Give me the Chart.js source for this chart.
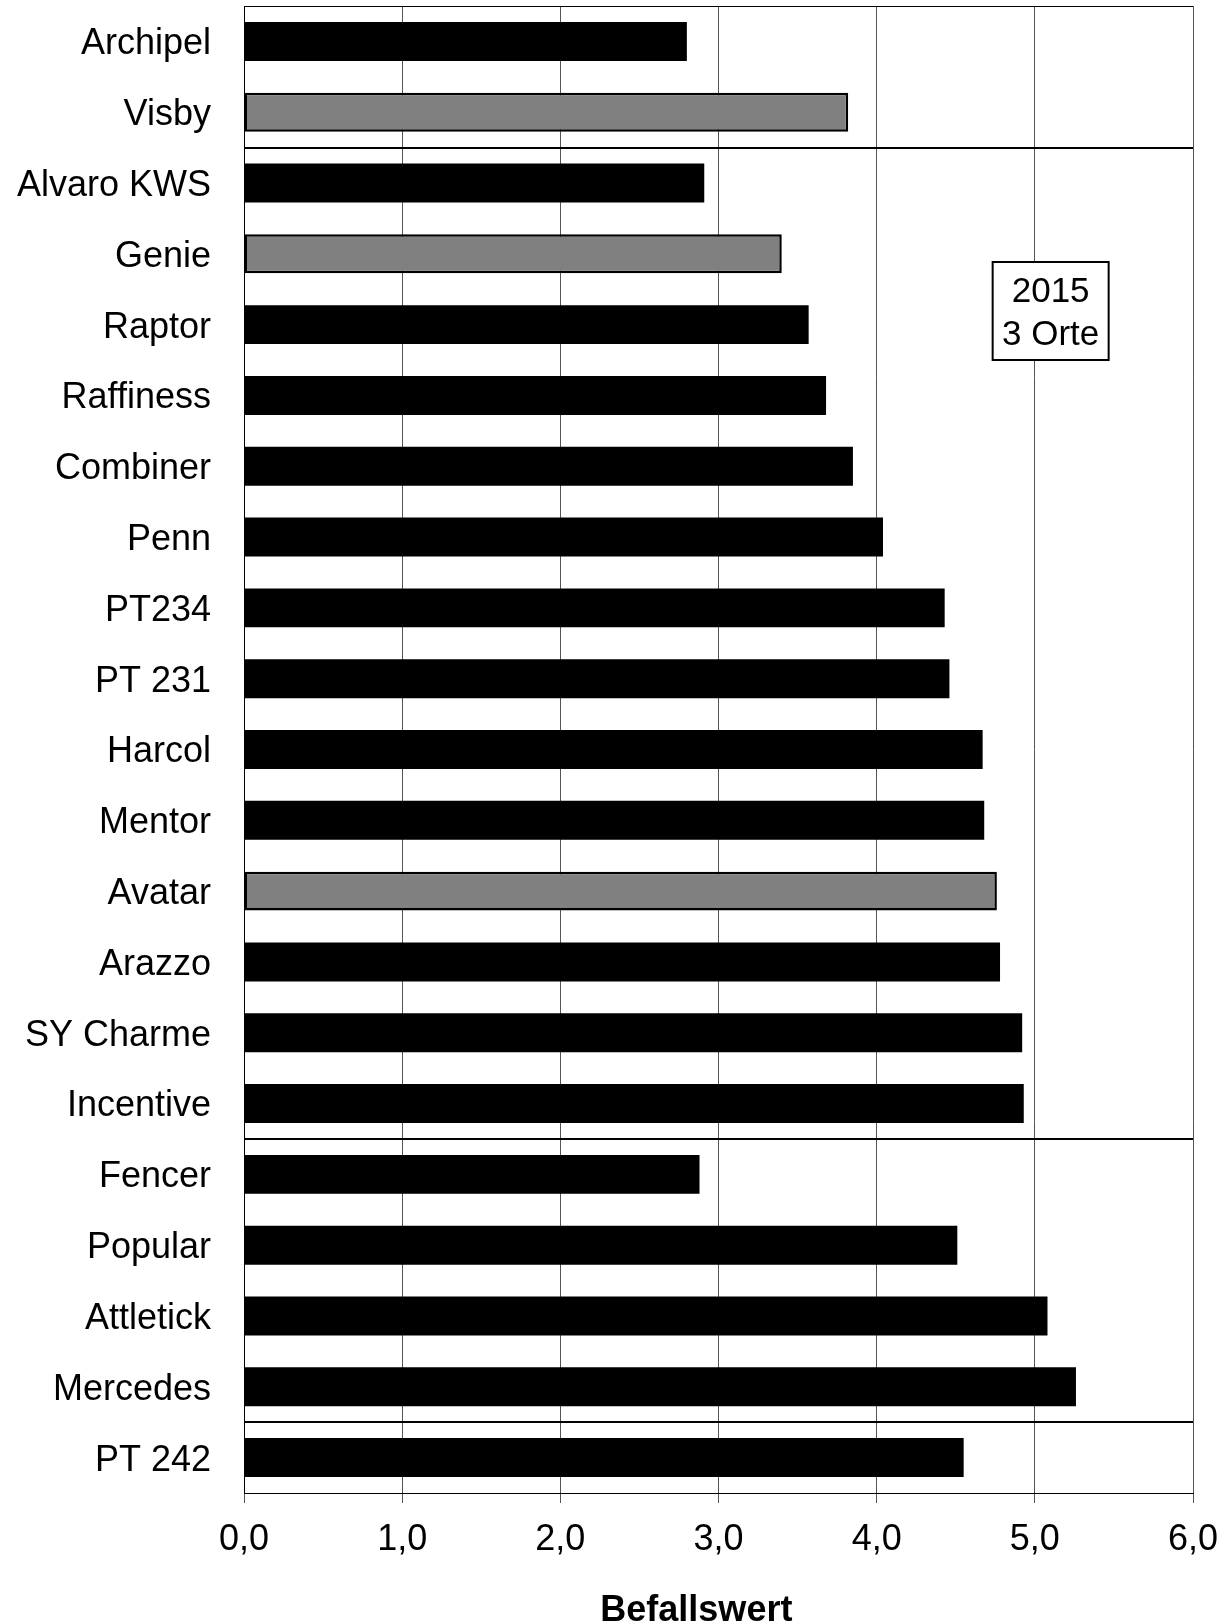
<!DOCTYPE html>
<html>
<head>
<meta charset="utf-8">
<script src="https://cdn.jsdelivr.net/npm/chart.js@4.4.1/dist/chart.umd.min.js"></script>
<style>
  body { margin: 0; background: #fff; }
  #wrap { width: 1230px; height: 1622px; }
</style>
</head>
<body>
<div id="wrap"><canvas id="befallChart"></canvas></div>
<script>
const sorten = ["Archipel", "Visby", "Alvaro KWS", "Genie", "Raptor", "Raffiness", "Combiner", "Penn",
  "PT234", "PT 231", "Harcol", "Mentor", "Avatar", "Arazzo", "SY Charme", "Incentive",
  "Fencer", "Popular", "Attletick", "Mercedes", "PT 242"];
const befallswert = [2.80, 3.82, 2.91, 3.40, 3.57, 3.68, 3.85, 4.04, 4.43, 4.46, 4.67, 4.68,
  4.76, 4.78, 4.92, 4.93, 2.88, 4.51, 5.08, 5.26, 4.55];
const vergleichssorten = ["Visby", "Genie", "Avatar"];
const gruppenGrenzen = [2, 16, 20];
const xTicks = [0, 1, 2, 3, 4, 5, 6];
const infoText = ["2015", "3 Orte"];
const achsenTitel = "Befallswert";

Chart.defaults.font.family = "'Liberation Sans', Arial, sans-serif";
Chart.defaults.color = "#000";

const isGrau = i => vergleichssorten.includes(sorten[i]);

// Kasten mit Jahr / Orte und Achsentitel
const beschriftung = {
  id: "beschriftung",
  afterDraw(chart) {
    const ctx = chart.ctx;
    const cx = chart.scales.x.getPixelForValue(5.1);
    ctx.save();
    ctx.fillStyle = "#fff";
    ctx.fillRect(cx - 58, 262, 116, 98);
    ctx.strokeStyle = "#000";
    ctx.lineWidth = 2;
    ctx.strokeRect(cx - 58, 262, 116, 98);
    ctx.fillStyle = "#000";
    ctx.font = "35px 'Liberation Sans', Arial, sans-serif";
    ctx.textAlign = "center";
    ctx.textBaseline = "middle";
    ctx.fillText(infoText[0], cx, 292);
    ctx.fillText(infoText[1], cx, 335);

    ctx.font = "bold 36px 'Liberation Sans', Arial, sans-serif";
    ctx.fillText(achsenTitel, chart.scales.x.getPixelForValue(2.86), 1611);
    ctx.restore();
  }
};

new Chart(document.getElementById("befallChart"), {
  type: "bar",
  data: {
    labels: sorten,
    datasets: [{
      data: befallswert,
      backgroundColor: c => isGrau(c.dataIndex) ? "#808080" : "#000",
      borderColor: "#000",
      borderWidth: c => isGrau(c.dataIndex) ? 2.5 : 0,
      borderSkipped: false,
      categoryPercentage: 1,
      barPercentage: 0.55,
    }],
  },
  options: {
    indexAxis: "y",
    responsive: true,
    maintainAspectRatio: false,
    animation: false,
    layout: { padding: { top: 6, right: 37, left: 0, bottom: 0 } },
    plugins: {
      legend: { display: false },
      tooltip: { enabled: false },
    },
    scales: {
      x: {
        min: 0,
        max: 6,
        afterBuildTicks: s => { s.ticks = xTicks.map(v => ({ value: v })); },
        afterFit: s => { s.height = 129; s.paddingLeft = 0; s.paddingRight = 0; },
        ticks: {
          font: { size: 36 },
          padding: 15,
          callback: v => v.toFixed(1).replace(".", ","),
        },
        grid: {
          color: "#555",
          lineWidth: 1,
          tickLength: 10,
          tickColor: "#555",
        },
        border: { display: true, color: "#000", width: 1 },
      },
      y: {
        afterFit: s => { s.width = 244; s.paddingTop = 0; s.paddingBottom = 0; },
        ticks: { font: { size: 36 }, padding: 33, labelOffset: 3 },
        grid: {
          drawTicks: false,
          color: c => (c.index === undefined || c.index === 0 || gruppenGrenzen.includes(c.index)) ? "#000" : "rgba(0,0,0,0)",
          lineWidth: c => gruppenGrenzen.includes(c.index) ? 2 : 1,
        },
        border: { display: true, color: "#000", width: 1 },
      },
    },
  },
  plugins: [beschriftung],
});
</script>
</body>
</html>
